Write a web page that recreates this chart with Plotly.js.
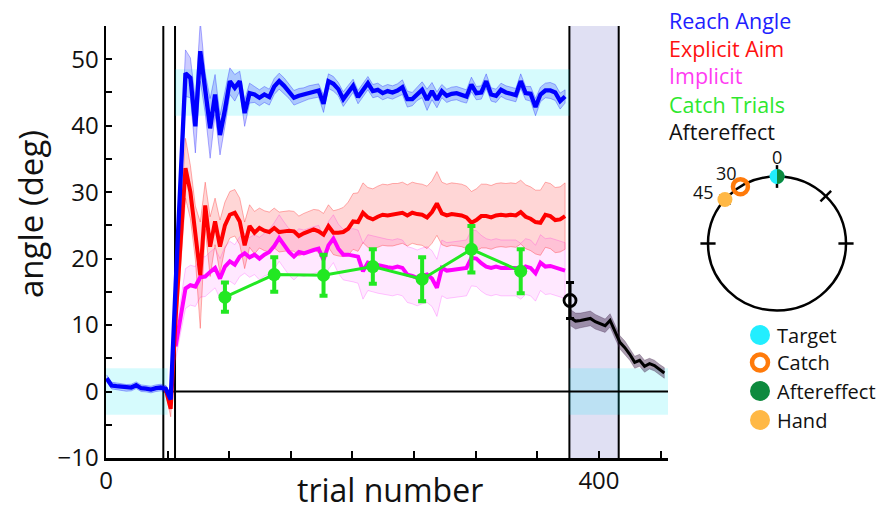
<!DOCTYPE html>
<html>
<head>
<meta charset="utf-8">
<script src="https://cdn.plot.ly/plotly-3.0.1.min.js"></script>
<style>html,body{margin:0;padding:0;background:#fff;}#chart{width:881px;height:510px;}</style>
</head>
<body>
<div id="chart"></div>
<script>
// ---------------- DATA ----------------
const baselineTrials = [0.5, 4.5, 8.5, 12.5, 16.5, 20.5, 24.5, 28.5, 32.5, 36.5, 40.5, 44.5, 48.5, 52.5];
const reachBaseline   = [2.0, 0.9, 0.8, 0.7, 0.55, 0.6, 0.95, 0.5, 0.45, 0.3, 0.5, 0.6, 0.4, -1.2];
const reachBaselineSE = [0.5, 0.5, 0.5, 0.5, 0.5, 0.5, 0.5, 0.5, 0.5, 0.5, 0.5, 0.5, 0.5, 0.9];

const rotationTrials = [56.5, 60.5, 64.5, 68.5, 72.5, 76.5, 80.5, 84.5, 88.5, 92.5,
  96.5, 100.5, 104.5, 108.5, 112.5, 116.5, 120.5, 124.5, 128.5, 132.5,
  136.5, 140.5, 144.5, 148.5, 152.5, 156.5, 160.5, 164.5, 168.5, 172.5,
  176.5, 180.5, 184.5, 188.5, 192.5, 196.5, 200.5, 204.5, 208.5, 212.5,
  216.5, 220.5, 224.5, 228.5, 232.5, 236.5, 240.5, 244.5, 248.5, 252.5,
  256.5, 260.5, 264.5, 268.5, 272.5, 276.5, 280.5, 284.5, 288.5, 292.5,
  296.5, 300.5, 304.5, 308.5, 312.5, 316.5, 320.5, 324.5, 328.5, 332.5,
  336.5, 340.5, 344.5, 348.5, 352.5, 356.5, 360.5, 364.5, 368.5, 372.5];

const reachRotation = [16, 31, 47.9, 47.2, 39.9, 51.2, 44.9, 39.6, 44.7, 38.6,
  42.4, 46.7, 45.7, 46.7, 41.9, 44.9, 44.7, 44.2, 44.7, 44.3,
  45.9, 46.7, 46.0, 45.2, 44.2, 44.5, 44.7, 45.0, 45.2, 45.3,
  43.3, 46.7, 46.3, 45.5, 44.0, 45.0, 46.0, 44.3, 45.3, 46.4,
  45.2, 45.4, 44.9, 45.2, 45.0, 45.3, 45.8, 44.0, 44.0, 44.8,
  45.4, 43.9, 45.2, 43.9, 45.2, 44.5, 44.8, 44.9, 44.6, 44.4,
  46.2, 44.9, 45.0, 46.7, 44.7, 44.5, 45.4, 45.0, 44.8, 44.6,
  46.7, 44.9, 44.8, 42.8, 44.7, 45.3, 45.3, 45.0, 43.7, 44.4];
const reachRotationSE = [2.5, 3.5, 3.5, 3.0, 4.0, 4.5, 3.0, 4.5, 3.0, 3.0,
  2.5, 2.0, 2.0, 1.5, 2.0, 1.5, 1.2, 1.2, 1.2, 1.2,
  1.2, 1.2, 1.2, 1.1, 1.1, 1.1, 1.0, 1.0, 1.0, 1.0,
  1.3, 1.1, 1.1, 1.0, 1.1, 1.0, 1.0, 1.0, 1.0, 1.0,
  1.0, 1.0, 1.0, 1.0, 1.0, 1.0, 1.1, 1.2, 1.0, 1.0,
  1.2, 1.6, 1.3, 1.2, 1.0, 1.0, 1.0, 1.0, 1.0, 1.0,
  1.1, 1.0, 1.0, 1.1, 1.0, 1.0, 1.0, 1.0, 1.0, 1.0,
  1.1, 1.0, 1.1, 1.3, 1.1, 1.1, 1.2, 1.2, 1.2, 1.0];

const aimPreTrials = [48.5, 52.5];
const aimPre       = [0.3, -2.6];
const aimPreSE     = [0.6, 1.2];
const aimRotation = [11, 23, 33.6, 30.0, 23.9, 17.5, 28.0, 21.8, 25.6, 21.8,
  25.0, 26.6, 26.9, 25.6, 22.0, 24.9, 23.9, 24.6, 24.2, 24.0,
  24.6, 24.0, 24.1, 24.2, 24.1, 23.4, 23.8, 24.1, 24.4, 24.1,
  23.6, 24.9, 23.9, 23.9, 24.0, 24.5, 25.6, 25.5, 26.9, 26.2,
  25.9, 26.3, 26.6, 26.5, 26.6, 26.7, 26.9, 26.5, 26.9, 26.7,
  26.6, 26.2, 27.0, 28.3, 26.8, 26.5, 26.7, 26.6, 26.5, 26.2,
  25.4, 25.8, 26.4, 26.4, 26.2, 26.5, 26.6, 26.5, 26.6, 26.5,
  27.0, 26.3, 26.0, 25.5, 25.4, 26.6, 26.4, 25.8, 25.9, 26.4];
const aimRotationSE = [3.0, 4.0, 4.5, 4.0, 4.0, 8.0, 3.5, 4.5, 3.5, 4.0,
  3.5, 3.5, 3.5, 3.5, 3.5, 3.2, 3.2, 3.0, 3.0, 3.0,
  3.0, 3.0, 3.0, 3.0, 3.0, 3.0, 3.0, 3.0, 3.0, 3.2,
  3.2, 3.2, 3.3, 3.5, 3.7, 4.0, 4.2, 4.4, 4.5, 4.5,
  4.6, 4.6, 4.6, 4.6, 4.7, 4.6, 4.6, 4.6, 4.6, 4.6,
  4.6, 4.7, 4.7, 4.8, 4.7, 4.7, 4.7, 4.7, 4.7, 4.7,
  4.7, 4.7, 4.8, 4.8, 4.8, 4.8, 4.8, 4.8, 4.8, 4.8,
  4.8, 4.8, 4.8, 4.8, 4.9, 4.9, 4.9, 4.9, 4.9, 5.0];

const implicitRotation = [6.8, 11.3, 15.5, 16.0, 15.8, 17.2, 17.3, 18.0, 18.6, 17.0,
  18.8, 19.6, 19.1, 20.3, 20.8, 20.2, 20.6, 20.0, 20.6, 21.0,
  21.9, 23.1, 22.0, 21.0, 20.3, 21.0, 20.8, 21.1, 21.3, 21.5,
  19.8, 22.0, 23.0, 21.5, 20.6, 20.6, 20.5, 20.3, 18.1, 19.4,
  19.2, 19.0, 18.9, 18.7, 18.6, 18.8, 18.6, 17.6, 17.4, 17.1,
  17.4, 17.6, 17.0, 15.6, 18.6, 18.2, 18.3, 18.4, 18.5, 18.6,
  20.1, 20.0, 19.3, 18.8, 18.6, 18.8, 18.6, 18.6, 18.6, 18.6,
  18.1, 18.8, 18.6, 17.8, 19.4, 18.8, 18.9, 18.7, 18.4, 18.2];
const implicitRotationSE = [2.0, 2.5, 3.0, 3.0, 3.0, 3.0, 3.0, 3.0, 3.0, 3.0,
  3.0, 3.0, 3.0, 3.0, 3.0, 3.0, 3.0, 3.2, 3.2, 3.4,
  3.5, 3.5, 3.5, 3.5, 3.5, 3.5, 3.5, 3.5, 3.5, 3.5,
  3.6, 3.6, 3.6, 3.7, 3.8, 3.9, 4.0, 4.0, 4.2, 4.2,
  4.2, 4.2, 4.2, 4.2, 4.2, 4.2, 4.2, 4.2, 4.2, 4.2,
  4.2, 4.2, 4.2, 4.3, 4.2, 4.2, 4.2, 4.2, 4.2, 4.2,
  4.2, 4.2, 4.2, 4.2, 4.2, 4.2, 4.2, 4.2, 4.2, 4.2,
  4.2, 4.2, 4.2, 4.2, 4.2, 4.2, 4.2, 4.2, 4.2, 4.2];

const catchTrials = [96.5, 136.5, 176.5, 216.5, 256.5, 296.5, 336.5];
const catchAngle  = [14.2, 17.6, 17.5, 18.8, 16.9, 21.4, 18.1];
const catchSE     = [2.2, 2.6, 3.1, 2.6, 3.3, 3.5, 3.3];

const afterTrials = [377, 381, 385, 389, 393, 397, 401, 405, 409, 413,
  417, 421, 425, 429, 433, 437, 441, 445, 449, 453];
const afterAngle  = [11.1, 10.6, 10.7, 10.9, 11.0, 10.5, 10.2, 9.9, 10.7, 9.0,
  7.4, 6.6, 5.6, 4.4, 4.7, 3.8, 4.2, 3.9, 3.3, 2.8];
const afterSE     = [1.2, 1.2, 1.1, 1.1, 1.1, 1.1, 1.0, 1.0, 1.0, 1.0,
  1.0, 1.0, 0.9, 0.9, 0.9, 0.9, 0.8, 0.8, 0.8, 0.8];
const afterCatchTrial = [376.5];
const afterCatchAngle = [13.7];
const afterCatchSE    = [2.7];

// phase boundaries (trial numbers) and target windows
const phaseLines = [46.5, 56, 376, 416];
const noFeedbackPhase = [376, 416];
const targetWindowHalf = 3.5;
const rotationTarget = 45;

const xTickVals = [0, 50, 100, 150, 200, 250, 300, 350, 400, 450];
const xTickText = ['0', '', '', '', '', '', '', '', '400', ''];
const yTickVals = [-10, -5, 0, 5, 10, 15, 20, 25, 30, 35, 40, 45, 50];
const yTickText = ['\u221210', '', '0', '', '10', '', '20', '', '30', '', '40', '', '50'];

const legendNames  = ['Reach Angle', 'Explicit Aim', 'Implicit', 'Catch Trials', 'Aftereffect'];
const legendColors = ['#2020ff', '#ff1010', '#ff3cf2', '#2ee82e', '#111111'];

// inset schematic (angles CCW from target, as drawn)
const insetLabels = ['0', '30', '45'];
const markerAngles = [0, 32, 49];
const insetTickAngles = [0, 90, -90, -45, 49];
const keyNames  = ['Target', 'Catch', 'Aftereffect', 'Hand'];
const keyColors = ['#22eeff', '#ff7a0a', '#0d8a3e', '#ffb845'];

// ---------------- LAYOUT HELPERS ----------------
const W = 881, H = 510, ML = 106, MR = 1, MT = 26, MB = 52;
const PW = W - ML - MR, PH = H - MT - MB;
const px = p => (p - ML) / PW;
const py = p => (H - MB - p) / PH;
const FONT = 'Open Sans, Noto Sans, sans-serif';

function band(xs, ys, se, fill, edge) {
  const up = ys.map((v, i) => v + se[i]);
  const lo = ys.map((v, i) => v - se[i]);
  return {x: xs.concat(xs.slice().reverse()), y: up.concat(lo.slice().reverse()),
    type: 'scatter', mode: 'lines', fill: 'toself', fillcolor: fill,
    line: {color: edge, width: 1}, hoverinfo: 'skip', showlegend: false};
}
function line(xs, ys, color, width) {
  return {x: xs, y: ys, type: 'scatter', mode: 'lines', line: {color: color, width: width}, showlegend: false};
}

const reachX = baselineTrials.concat(rotationTrials);
const reachY = reachBaseline.concat(reachRotation);
const reachS = reachBaselineSE.concat(reachRotationSE);
const aimX = aimPreTrials.concat(rotationTrials);
const aimY = aimPre.concat(aimRotation);
const aimS = aimPreSE.concat(aimRotationSE);

const traces = [
  band(rotationTrials, implicitRotation, implicitRotationSE, 'rgba(255,0,255,0.09)', 'rgba(255,0,255,0.22)'),
  band(aimX, aimY, aimS, 'rgba(255,0,0,0.16)', 'rgba(255,0,0,0.3)'),
  band(reachX, reachY, reachS, 'rgba(0,0,255,0.2)', 'rgba(0,0,255,0.3)'),
  band(afterTrials, afterAngle, afterSE, 'rgba(70,40,80,0.45)', 'rgba(70,40,80,0.3)'),
  line(rotationTrials, implicitRotation, '#ff00ff', 4),
  line(aimX, aimY, '#ff0000', 4),
  line(reachX, reachY, '#0000ff', 4.3),
  {x: catchTrials, y: catchAngle, type: 'scatter', mode: 'lines+markers',
   line: {color: '#22e822', width: 3}, marker: {color: '#22e822', size: 13},
   error_y: {type: 'data', array: catchSE, color: '#22e822', thickness: 4, width: 4}, showlegend: false},
  line(afterTrials, afterAngle, '#000000', 3),
  {x: afterCatchTrial, y: afterCatchAngle, type: 'scatter', mode: 'markers',
   marker: {symbol: 'circle-open', color: '#000', size: 12, line: {width: 2.8, color: '#000'}},
   error_y: {type: 'data', array: afterCatchSE, color: '#000', thickness: 3, width: 4}, showlegend: false}
];

// ---------------- INSET ----------------
const IC = {x: 777, y: 243.5}, RX = 69, RY = 67;
const ix0 = 693, ix1 = 861, iy0 = 148, iy1 = 442;
const x2range = [(ix0 - IC.x) / RX, (ix1 - IC.x) / RX];
const y2range = [(IC.y - iy1) / RY, (IC.y - iy0) / RY];
const ux = p => (p - IC.x) / RX;
const uy = p => (IC.y - p) / RY;
const rad = a => a * Math.PI / 180;
const polar = (a, r) => [-Math.sin(rad(a)) * r, Math.cos(rad(a)) * r];

const shapes = [];
// target windows (cyan)
shapes.push({type: 'rect', xref: 'x', yref: 'y', x0: 0, x1: 50, y0: -targetWindowHalf, y1: targetWindowHalf,
  fillcolor: 'rgba(0,228,245,0.16)', line: {width: 0}, layer: 'below'});
shapes.push({type: 'rect', xref: 'x', yref: 'y', x0: phaseLines[1], x1: phaseLines[2],
  y0: rotationTarget - targetWindowHalf, y1: rotationTarget + targetWindowHalf,
  fillcolor: 'rgba(0,228,245,0.16)', line: {width: 0}, layer: 'below'});
shapes.push({type: 'rect', xref: 'x', yref: 'y', x0: phaseLines[2], x1: 456, y0: -targetWindowHalf, y1: targetWindowHalf,
  fillcolor: 'rgba(0,228,245,0.16)', line: {width: 0}, layer: 'below'});
// no-feedback phase (lavender)
shapes.push({type: 'rect', xref: 'x', yref: 'paper', x0: noFeedbackPhase[0], x1: noFeedbackPhase[1], y0: 0, y1: 1,
  fillcolor: 'rgba(60,60,180,0.16)', line: {width: 0}, layer: 'below'});
// zero line
shapes.push({type: 'line', xref: 'x', yref: 'y', x0: phaseLines[0], x1: 456, y0: 0, y1: 0,
  line: {color: '#000', width: 2}, layer: 'below'});
phaseLines.forEach(v => shapes.push({type: 'line', xref: 'x', yref: 'paper', x0: v, x1: v, y0: 0, y1: 1,
  line: {color: '#000', width: 2}, layer: 'below'}));

// inset circle
shapes.push({type: 'circle', xref: 'x2', yref: 'y2', x0: -1, x1: 1, y0: -1, y1: 1,
  line: {color: '#000', width: 2.5}, layer: 'below'});
insetTickAngles.forEach((a, i) => {
  const h = (a === 0) ? 0.17 : 0.11;
  const p0 = polar(a, 1 - h), p1 = polar(a, 1 + h);
  shapes.push({type: 'line', xref: 'x2', yref: 'y2', x0: p0[0], y0: p0[1], x1: p1[0], y1: p1[1],
    line: {color: '#000', width: (a === 49) ? 1 : 2.5}, layer: 'below'});
});
// aftereffect half-disc on the target marker
(function () {
  const c = polar(markerAngles[0], 1), rx = 7.5 / RX, ry = 7.5 / RY, k = 0.5523;
  shapes.push({type: 'path', xref: 'x2', yref: 'y2', layer: 'above',
    path: `M ${c[0]},${c[1] + ry} C ${c[0] + k * rx},${c[1] + ry} ${c[0] + rx},${c[1] + k * ry} ${c[0] + rx},${c[1]} ` +
          `C ${c[0] + rx},${c[1] - k * ry} ${c[0] + k * rx},${c[1] - ry} ${c[0]},${c[1] - ry} Z`,
    fillcolor: keyColors[2], line: {width: 0}});
})();

const mTarget = polar(markerAngles[0], 1), mCatch = polar(markerAngles[1], 1), mHand = polar(markerAngles[2], 1);
traces.push({x: [mTarget[0]], y: [mTarget[1]], xaxis: 'x2', yaxis: 'y2', type: 'scatter', mode: 'markers',
  marker: {color: keyColors[0], size: 15, line: {width: 0}}, showlegend: false, cliponaxis: false});
traces.push({x: [mHand[0]], y: [mHand[1]], xaxis: 'x2', yaxis: 'y2', type: 'scatter', mode: 'markers',
  marker: {color: keyColors[3], size: 15, line: {width: 0}}, showlegend: false, cliponaxis: false});
traces.push({x: [mCatch[0]], y: [mCatch[1]], xaxis: 'x2', yaxis: 'y2', type: 'scatter', mode: 'markers',
  marker: {symbol: 'circle-open', color: keyColors[1], size: 15, line: {width: 4.5, color: keyColors[1]}}, showlegend: false, cliponaxis: false});

// key markers
const keyY = [335, 362.5, 391, 420];
traces.push({x: [ux(760), ux(760), ux(760)], y: [uy(keyY[0]), uy(keyY[2]), uy(keyY[3])], xaxis: 'x2', yaxis: 'y2',
  type: 'scatter', mode: 'markers', marker: {color: [keyColors[0], keyColors[2], keyColors[3]], size: 20, line: {width: 0}},
  showlegend: false, cliponaxis: false});
traces.push({x: [ux(760)], y: [uy(keyY[1])], xaxis: 'x2', yaxis: 'y2', type: 'scatter', mode: 'markers',
  marker: {symbol: 'circle-open', color: keyColors[1], size: 16, line: {width: 4.5, color: keyColors[1]}},
  showlegend: false, cliponaxis: false});

const annotations = [];
annotations.push({xref: 'paper', yref: 'paper', x: px(30), y: py(214), text: 'angle (deg)', textangle: -90,
  showarrow: false, font: {family: FONT, size: 33, color: '#111'}, xanchor: 'center', yanchor: 'middle'});
annotations.push({xref: 'paper', yref: 'paper', x: px(390), y: py(490), text: 'trial number',
  showarrow: false, font: {family: FONT, size: 32, color: '#111'}, xanchor: 'center', yanchor: 'middle'});
const legY = [20, 48, 76, 104, 131];
legendNames.forEach((n, i) => annotations.push({xref: 'paper', yref: 'paper', x: px(668), y: py(legY[i]), text: n,
  showarrow: false, xanchor: 'left', yanchor: 'middle', borderpad: 0, font: {family: FONT, size: 21.5, color: legendColors[i]}}));
const insetLabelPos = [[777, 157], [726, 173], [703, 192]];
insetLabels.forEach((t, i) => annotations.push({xref: 'x2', yref: 'y2', x: ux(insetLabelPos[i][0]), y: uy(insetLabelPos[i][1]),
  text: t, showarrow: false, xanchor: 'center', yanchor: 'middle', borderpad: 0, font: {family: FONT, size: 18, color: '#111'}}));
keyNames.forEach((n, i) => annotations.push({xref: 'x2', yref: 'y2', x: ux(775), y: uy(keyY[i]), text: n,
  showarrow: false, xanchor: 'left', yanchor: 'middle', font: {family: FONT, size: 20, color: '#111'}}));

const layout = {
  width: W, height: H, margin: {l: ML, r: MR, t: MT, b: MB, pad: 0},
  paper_bgcolor: '#fff', plot_bgcolor: 'rgba(0,0,0,0)', showlegend: false,
  font: {family: FONT, color: '#111'},
  xaxis: {domain: [0, 562 / PW], range: [0, 456], showgrid: false, zeroline: false, showline: true,
    linecolor: '#000', linewidth: 2.5, ticks: 'inside', ticklen: 7, tickwidth: 2, tickcolor: '#000',
    tickvals: xTickVals, ticktext: xTickText, tickfont: {family: FONT, size: 24, color: '#111'}},
  yaxis: {range: [-10, 55], showgrid: false, zeroline: false, showline: true,
    linecolor: '#000', linewidth: 2.5, ticks: 'inside', ticklen: 6, tickwidth: 2, tickcolor: '#000',
    tickvals: yTickVals, ticktext: yTickText, tickfont: {family: FONT, size: 24, color: '#111'}},
  xaxis2: {domain: [px(ix0), px(ix1)], range: x2range, visible: false, anchor: 'y2', fixedrange: true},
  yaxis2: {domain: [py(iy1), py(iy0)], range: y2range, visible: false, anchor: 'x2', fixedrange: true},
  shapes: shapes, annotations: annotations
};

Plotly.newPlot('chart', traces, layout, {staticPlot: true, displayModeBar: false});
</script>
</body>
</html>
